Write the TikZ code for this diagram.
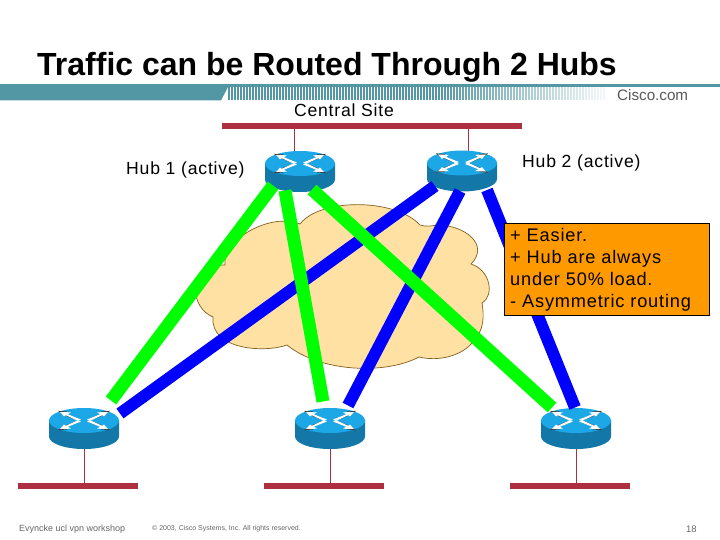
\documentclass[tikz,border=0pt]{standalone}
\usepackage{fontspec}
\setmainfont{Liberation Sans}
\newfontfamily\spacedfont[LetterSpace=4.5]{Liberation Sans}
\usepackage{tikz}
\usetikzlibrary{positioning,calc}
\usepackage{xcolor}
\definecolor{bandteal}{HTML}{5297A3}
\definecolor{lanred}{HTML}{AE3040}
\definecolor{routertop}{HTML}{1CA8E6}
\definecolor{routerside}{HTML}{1378A8}
\definecolor{cloudfill}{HTML}{FFE1A3}
\definecolor{cloudedge}{HTML}{85601E}
\definecolor{linkgreen}{HTML}{00FF00}
\definecolor{linkblue}{HTML}{0000FF}
\definecolor{notefill}{HTML}{FF9900}
\definecolor{footgrey}{HTML}{666666}

\begin{document}
\begin{tikzpicture}[
    x=1pt, y=-1pt,
    router/.style={minimum width=70pt, minimum height=41pt, inner sep=0pt},
    lan/.style={fill=lanred, minimum width=#1, minimum height=6pt, inner sep=0pt},
    drop/.style={draw=lanred, line width=0.8pt},
    glink/.style={draw=linkgreen, line width=13pt},
    blink/.style={draw=linkblue, line width=12pt},
    lbl/.style={font=\spacedfont\fontsize{17.6}{22}\selectfont, inner sep=0pt},
    foot/.style={text=footgrey, inner sep=0pt, anchor=west},
    routericon/.pic={
        \fill[routerside] (-35,-8) -- (-35,8) arc[start angle=180, end angle=0, x radius=35, y radius=12.5] -- (35,-8) -- cycle;
        \fill[routertop] (0,-8) ellipse[x radius=35, y radius=12.5];
        \foreach \sx/\sy in {1/1,-1/1,1/-1,-1/-1} {
            \begin{scope}[shift={(0,-8)}, xscale=\sx, yscale=\sy]
                \fill[black!75] (6,-2.2) -- (19,-7) -- (16.5,-9) -- (26,-9.6) -- (21,-6) -- (8,-0.5) -- cycle;
                \fill[white] (3,-1) -- (16,-6.2) -- (13,-8.2) -- (24,-8.4) -- (20,-4.2) -- (18,-5.2) -- (6,0.4) -- cycle;
            \end{scope}
        }
    },
]
\useasboundingbox (0,0) rectangle (720,540);
\fill[white] (0,0) rectangle (720,540);

% header band
\fill[bandteal] (0,84) rectangle (720,87);
\fill[bandteal] (0,87) -- (228,87) -- (221,100.5) -- (0,100.5) -- cycle;
\foreach \i in {0,...,125} {
    \pgfmathsetmacro{\fadeval}{\i<70 ? 100 : max(8,100-(\i-70)*1.7)}
    \fill[bandteal!\fadeval!white] (228+\i*3,87) rectangle ++(1.5,13.5);
}
\node[inner sep=0pt, font=\fontsize{32}{36}\selectfont\bfseries, anchor=base west] (title) at (37,76) {Traffic can be Routed Through 2 Hubs};
\node[inner sep=0pt, font=\fontsize{15.2}{17}\selectfont, text=black!65, anchor=base west] (cisco) at (617,101) {Cisco.com};

% cloud
\path[fill=cloudfill, draw=cloudedge, line width=0.7pt]
    (225,265) .. controls (222,240) and (270,212) .. (300,224)
    .. controls (320,198) and (395,198) .. (420,225)
    .. controls (426,227) and (432,226) .. (437,225)
    .. controls (465,225) and (490,245) .. (471,264)
    .. controls (490,270) and (495,295) .. (482,303)
    .. controls (484,315) and (485,330) .. (472,343)
    .. controls (462,355) and (440,362) .. (419,357)
    .. controls (385,375) and (320,372) .. (287,345)
    .. controls (265,353) and (210,350) .. (213,317)
    .. controls (190,308) and (185,265) .. (225,265) -- cycle;

% routers
\node[router] (hubone) at (300,171.5) {};
\node[router] (hubtwo) at (462,171) {};
\node[router] (siteone) at (84,428.5) {};
\node[router] (sitetwo) at (330,428.5) {};
\node[router] (sitethree) at (576,428.5) {};

% lan segments
\node[lan=300pt] (lancentral) at (372,126) {};
\node[lan=120pt] (lanone) at (78,486) {};
\node[lan=120pt] (lantwo) at (324,486) {};
\node[lan=120pt] (lanthree) at (570,486) {};

\coordinate (dropone) at (294,152);
\coordinate (droptwo) at (468,152);
\draw[drop] (dropone |- lancentral.south) -- (dropone);
\draw[drop] (droptwo |- lancentral.south) -- (droptwo);
\draw[drop] (siteone.south) -- (siteone.south |- lanone.north);
\draw[drop] (sitetwo.south) -- (sitetwo.south |- lantwo.north);
\draw[drop] (sitethree.south) -- (sitethree.south |- lanthree.north);

\foreach \r in {hubone,hubtwo,siteone,sitetwo,sitethree} {
    \pic at (\r) {routericon};
}

% links
\draw[blink] ([xshift=-27pt,yshift=-15pt]hubtwo.center) -- ([xshift=36pt,yshift=15pt]siteone.center);
\draw[blink] ([xshift=-2pt,yshift=-20pt]hubtwo.center) -- ([xshift=18pt,yshift=23pt]sitetwo.center);
\draw[blink] ([xshift=25pt,yshift=-19pt]hubtwo.center) -- ([xshift=-1pt,yshift=21pt]sitethree.center);
\draw[glink] ([xshift=-27pt,yshift=-14pt]hubone.center) -- ([xshift=27pt,yshift=28pt]siteone.center);
\draw[glink] ([xshift=-15pt,yshift=-19pt]hubone.center) -- ([xshift=-7pt,yshift=27pt]sitetwo.center);
\draw[glink] ([xshift=12pt,yshift=-18pt]hubone.center) -- ([xshift=-24pt,yshift=21pt]sitethree.center);

% labels
\node[lbl, anchor=center] (central) at (344,110) {Central Site};
\node[lbl, anchor=west] (hubonelbl) at (126,170) {Hub 1 (active)};
\node[lbl, anchor=west] (hubtwolbl) at (522,163) {Hub 2 (active)};
\node[draw=black, line width=0.6pt, fill=notefill, minimum width=205pt, minimum height=92pt, inner sep=0pt] (note) at (606.5,269) {};
\node[lbl, align=left, anchor=north west, font=\spacedfont\fontsize{18.2}{22}\selectfont] (notetext) at (510,228) {+ Easier.\\+ Hub are always\\under 50\% load.\\- Asymmetric routing};

% footer
\node[foot, font=\fontsize{9}{11}\selectfont] (footname) at (19,529) {Evyncke ucl vpn workshop};
\node[foot, font=\fontsize{7}{9}\selectfont] (footcopy) at (152,529) {© 2003, Cisco Systems, Inc. All rights reserved.};
\node[foot, font=\fontsize{9.5}{11}\selectfont] (footpage) at (686,529) {18};
\end{tikzpicture}
\end{document}
